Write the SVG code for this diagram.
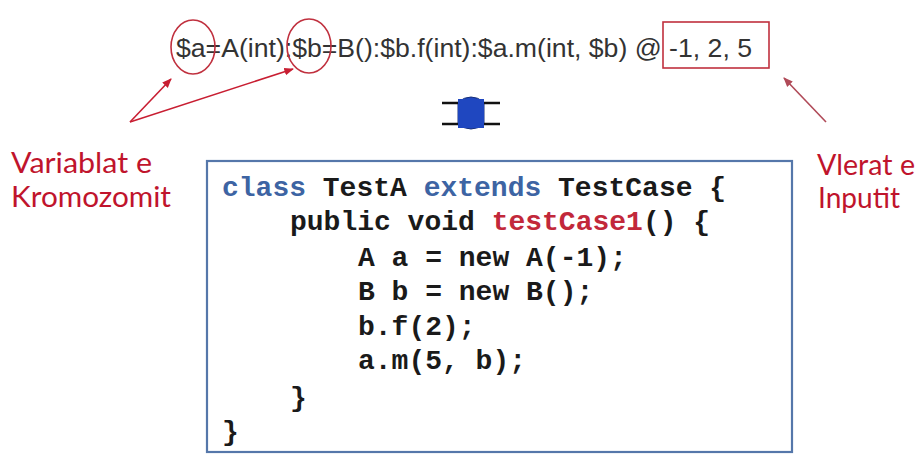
<svg xmlns="http://www.w3.org/2000/svg" width="919" height="455" viewBox="0 0 919 455">
  <style>
    .sig { font-family: "Liberation Sans", Arial, sans-serif; font-size: 26px; fill: #333; }
    .lbl { font-family: Lato, "Liberation Sans", sans-serif; font-size: 28px; fill: #c0142c; }
    .code { font-family: "Liberation Mono", "Courier New", monospace; font-size: 28px; font-weight: bold; fill: #1a1a1a; white-space: pre; }
    .kw { fill: #3d64a3; }
    .fn { fill: #c2283a; }
    .mark { fill: none; stroke: #c0303e; stroke-width: 1.6; }
    .ptr { fill: none; stroke: #c81e32; stroke-width: 1.6; }
    .ptr2 { fill: none; stroke: #b04a58; stroke-width: 1.6; }
  </style>
  <defs>
    <marker id="tip" viewBox="0 0 10 10" refX="9" refY="5" markerWidth="6" markerHeight="6" orient="auto-start-reverse">
      <path d="M0,1 L10,5 L0,9 Z" fill="#c81e32"/>
    </marker>
    <marker id="tip2" viewBox="0 0 10 10" refX="9" refY="5" markerWidth="6" markerHeight="6" orient="auto-start-reverse">
      <path d="M0,1 L10,5 L0,9 Z" fill="#b04a58"/>
    </marker>
  </defs>

  <rect width="919" height="455" fill="#ffffff"/>

  <!-- chromosome signature -->
  <g id="signature">
    <text class="sig" x="176" y="57" textLength="576" lengthAdjust="spacingAndGlyphs">$a=A(int):$b=B():$b.f(int):$a.m(int, $b) @ -1, 2, 5</text>
    <ellipse class="mark" cx="193" cy="47" rx="22" ry="27"/>
    <ellipse class="mark" cx="309" cy="46" rx="22" ry="27"/>
    <rect class="mark" x="663" y="22" width="106" height="46"/>
  </g>

  <!-- labels -->
  <g id="label-variables">
    <text class="lbl" x="11" y="173" textLength="141" lengthAdjust="spacingAndGlyphs">Variablat e</text>
    <text class="lbl" x="11" y="207" textLength="160" lengthAdjust="spacingAndGlyphs">Kromozomit</text>
  </g>
  <g id="label-inputs">
    <text class="lbl" x="817" y="175" textLength="98" lengthAdjust="spacingAndGlyphs">Vlerat e</text>
    <text class="lbl" x="818" y="208" textLength="82" lengthAdjust="spacingAndGlyphs">Inputit</text>
  </g>

  <!-- up/down block arrow -->
  <g id="transform-arrow">
    <path d="M458,102 Q471,92 484,102 L484,124 Q471,134 458,124 Z" fill="#1f47c0" stroke="#18307a" stroke-width="1"/>
    <line x1="442" y1="103" x2="500" y2="103" stroke="#111" stroke-width="2.5"/>
    <line x1="442" y1="124" x2="500" y2="124" stroke="#111" stroke-width="2.5"/>
    <rect x="458" y="99" width="26" height="29" fill="#1f47c0"/>
  </g>

  <!-- generated test case -->
  <g id="test-case">
    <rect x="207" y="161" width="585" height="291" fill="#ffffff" stroke="#5577aa" stroke-width="2.2"/>
    <text class="code" x="222" y="196"><tspan class="kw">class</tspan> TestA <tspan class="kw">extends</tspan> TestCase {</text>
    <text class="code" x="290" y="230">public void <tspan class="fn">testCase1</tspan>() {</text>
    <text class="code" x="358" y="266">A a = new A(-1);</text>
    <text class="code" x="358" y="300">B b = new B();</text>
    <text class="code" x="358" y="335">b.f(2);</text>
    <text class="code" x="358" y="369">a.m(5, b);</text>
    <text class="code" x="290" y="406">}</text>
    <text class="code" x="222" y="440">}</text>
  </g>

  <!-- pointers from labels -->
  <g id="connectors">
    <path class="ptr" d="M130,122 L171,79" marker-end="url(#tip)"/>
    <path class="ptr" d="M130,122 L293,69" marker-end="url(#tip)"/>
    <path class="ptr2" d="M826,122 L784,78" marker-end="url(#tip2)"/>
  </g>
</svg>
